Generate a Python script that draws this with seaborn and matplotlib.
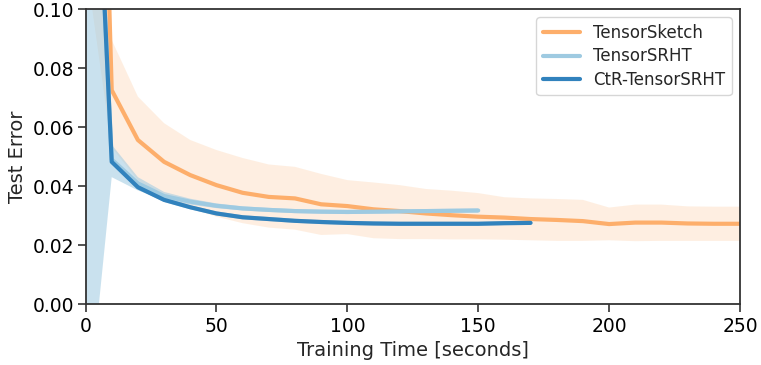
import numpy as np
import pandas as pd
import matplotlib
matplotlib.use("Agg")
import matplotlib.pyplot as plt
import seaborn as sns

# ---------------- data ----------------
ts_time = [0, 10, 20, 30, 40, 50, 60, 70, 80, 90, 100, 110, 120, 130, 140, 150,
           160, 170, 180, 190, 200, 210, 220, 230, 240, 250]
ts_mean = [0.38, 0.0725, 0.0556, 0.0482, 0.0437, 0.0403, 0.0377, 0.0363, 0.0358, 0.0338,
           0.0332, 0.0321, 0.0315, 0.0307, 0.0301, 0.0296, 0.0293, 0.0288, 0.0285, 0.0281,
           0.0271, 0.0276, 0.0276, 0.0273, 0.0272, 0.0272]
ts_low = [0.116, 0.053, 0.042, 0.036, 0.0325, 0.0296, 0.0274, 0.0259, 0.0252, 0.0234,
          0.0237, 0.0223, 0.0220, 0.0220, 0.0219, 0.0219, 0.0218, 0.0216, 0.0214, 0.0214,
          0.0216, 0.0213, 0.0214, 0.0214, 0.0214, 0.0214]
ts_high = [0.64, 0.0895, 0.0703, 0.0613, 0.0556, 0.0522, 0.0495, 0.0473, 0.0465, 0.0441,
           0.0420, 0.0412, 0.0403, 0.0390, 0.0384, 0.0376, 0.0362, 0.0358, 0.0356, 0.0353,
           0.0327, 0.0337, 0.0337, 0.0331, 0.0330, 0.0330]

srht_time = [0, 10, 20, 30, 40, 50, 60, 70, 80, 90, 100, 110, 120, 130, 140, 150]
srht_mean = [0.24, 0.049, 0.0409, 0.0366, 0.0347, 0.0333, 0.0324, 0.0319, 0.0315, 0.0313,
             0.0312, 0.0313, 0.0314, 0.0315, 0.0316, 0.0317]
srht_low = [-0.045, 0.043, 0.0385, 0.0352, 0.0337, 0.0325, 0.0317, 0.0312, 0.0308, 0.0306,
            0.0305, 0.0306, 0.0307, 0.0308, 0.0309, 0.0310]
srht_high = [0.19, 0.054, 0.0430, 0.0380, 0.0357, 0.0341, 0.0331, 0.0326, 0.0322, 0.0320,
             0.0319, 0.0320, 0.0321, 0.0322, 0.0323, 0.0324]

ctr_time = [0, 10, 20, 30, 40, 50, 60, 70, 80, 90, 100, 110, 120, 130, 140, 150, 160, 170]
ctr_mean = [0.24, 0.0482, 0.0396, 0.0353, 0.0328, 0.0307, 0.0294, 0.0288, 0.0282, 0.0278,
            0.0275, 0.0273, 0.0272, 0.0272, 0.0272, 0.0272, 0.0274, 0.0275]
ctr_low = [0.23, 0.0474, 0.0388, 0.0346, 0.0321, 0.0300, 0.0287, 0.0281, 0.0275, 0.0271,
           0.0268, 0.0266, 0.0265, 0.0265, 0.0265, 0.0265, 0.0267, 0.0268]
ctr_high = [0.25, 0.0490, 0.0404, 0.0360, 0.0335, 0.0314, 0.0301, 0.0295, 0.0289, 0.0285,
            0.0282, 0.0280, 0.0279, 0.0279, 0.0279, 0.0279, 0.0281, 0.0282]

labels = ["TensorSketch", "TensorSRHT", "CtR-TensorSRHT"]
colors = ["#fdae6b", "#9ecae1", "#3182bd"]

x_ticks = [0, 50, 100, 150, 200, 250]
y_ticks = [0.00, 0.02, 0.04, 0.06, 0.08, 0.10]

# ---------------- plot ----------------
sns.set_style("ticks")
plt.rcParams["font.family"] = ["DejaVu Sans"]
plt.rcParams["axes.edgecolor"] = "#333333"
plt.rcParams["xtick.color"] = "#333333"
plt.rcParams["ytick.color"] = "#333333"

fig = plt.figure(figsize=(7.61, 3.65), dpi=100)
ax = fig.add_axes([0.1124, 0.1671, 0.9724 - 0.1124, 0.9753 - 0.1671])

series = [
    (ts_time, ts_mean, ts_low, ts_high, 0.2),
    (srht_time, srht_mean, srht_low, srht_high, 0.55),
    (ctr_time, ctr_mean, ctr_low, ctr_high, 0.3),
]
for (t, m, lo, hi, a), c in zip(series, colors):
    ax.fill_between(t, lo, hi, color=c, alpha=a, linewidth=0)

for (t, m, lo, hi, a), c, lab in zip(series, colors, labels):
    df = pd.DataFrame({"time": t, "err": m})
    sns.lineplot(data=df, x="time", y="err", color=c, linewidth=3, label=lab, ax=ax)

ax.set_xlim(0, 250)
ax.set_ylim(0, 0.10)
ax.set_xticks(x_ticks)
ax.set_yticks(y_ticks)
ax.set_yticklabels([f"{v:.2f}" for v in y_ticks])
ax.tick_params(axis="both", labelsize=13.5, length=6, width=1.2, pad=2,
               labelcolor="black")
ax.tick_params(axis="x", pad=3)
for s in ax.spines.values():
    s.set_linewidth(1.3)
ax.set_xlabel("Training Time [seconds]", fontsize=14, labelpad=4)
ax.set_ylabel("Test Error", fontsize=14, labelpad=4)

leg = ax.legend(loc="upper right", fontsize=12, frameon=True, handlelength=2.2,
                labelspacing=0.32)
leg.get_frame().set_edgecolor("#cccccc")

fig.savefig("out.png", dpi=100)
